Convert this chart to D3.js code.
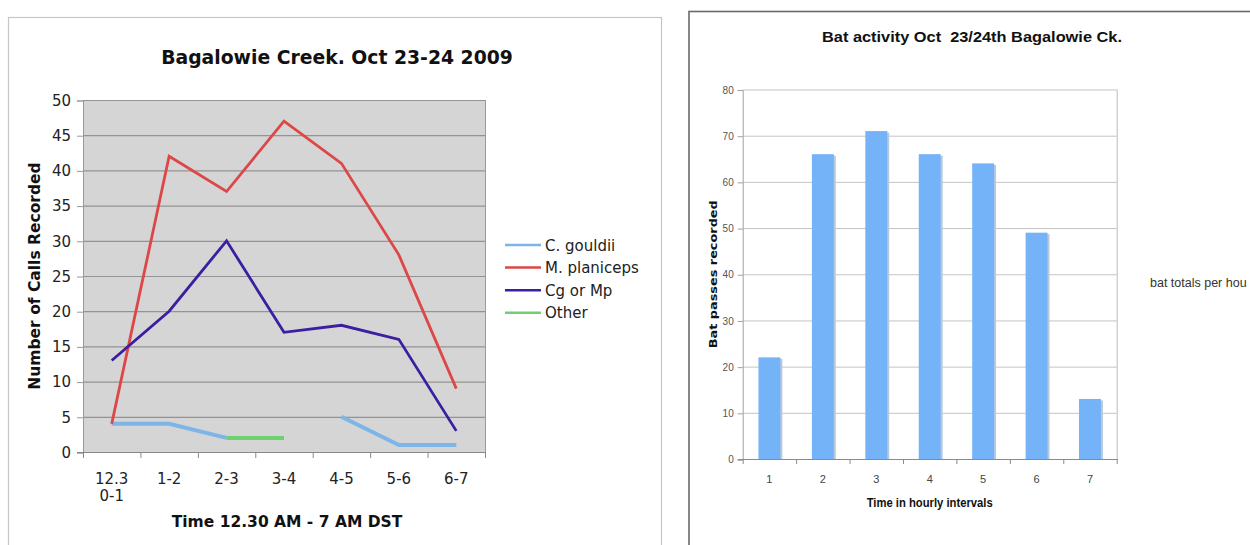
<!DOCTYPE html>
<html><head><meta charset="utf-8">
<script src="https://cdn.jsdelivr.net/npm/d3@7/dist/d3.min.js"></script>
<style>html,body{margin:0;padding:0;background:#fff;overflow:hidden} text{white-space:pre}</style>
</head><body>
<svg id="c" width="1250" height="545"></svg>
<script>
// ---------- data ----------
const leftCategories = ["12.3\n0-1","1-2","2-3","3-4","4-5","5-6","6-7"];
const cGouldii   = [4, 4, 2, null, 5, 1, 1];
const mPlaniceps = [4, 42, 37, 47, 41, 28, 9];
const cgOrMp     = [13, 20, 30, 17, 18, 16, 3];
const other      = [null, null, 2, 2, null, null, null];
const seriesNames = ["C. gouldii","M. planiceps","Cg or Mp","Other"];
const leftYTicks = [0,5,10,15,20,25,30,35,40,45,50];

const rightCategories = ["1","2","3","4","5","6","7"];
const batTotals = [22, 66, 71, 66, 64, 49, 13];
const rightYTicks = [0,10,20,30,40,50,60,70,80];
const rightLegendText = "bat totals per hou";

const svg = d3.select("#c");

// ================= LEFT CHART =================
const L = {x0:83, x1:485, yTop:100, yBot:452};
svg.append("rect").attr("x",8.5).attr("y",17.5).attr("width",653).attr("height",600)
  .attr("fill","#fff").attr("stroke","#c6c6c6").attr("stroke-width",1.2);

svg.append("text").attr("x",337).attr("y",64).attr("text-anchor","middle")
  .attr("font-family","DejaVu Sans").attr("font-weight","bold").attr("font-size",18.8)
  .attr("fill","#111").text("Bagalowie Creek. Oct 23-24 2009");

const lx = d3.scaleBand().domain(d3.range(leftCategories.length)).range([L.x0,L.x1]);
const ly = d3.scaleLinear().domain([0,50]).range([L.yBot,L.yTop]);

svg.append("rect").attr("x",L.x0).attr("y",L.yTop).attr("width",L.x1-L.x0).attr("height",L.yBot-L.yTop)
  .attr("fill","#d5d5d5");

const lg = svg.append("g");
lg.selectAll("line.grid").data(leftYTicks.filter(t=>t>0)).enter().append("line")
  .attr("x1",L.x0).attr("x2",L.x1).attr("y1",d=>ly(d)+0.5).attr("y2",d=>ly(d)+0.5)
  .attr("stroke","#939393").attr("stroke-width",1.2);
lg.append("line").attr("x1",L.x1+0.5).attr("x2",L.x1+0.5).attr("y1",L.yTop).attr("y2",L.yBot)
  .attr("stroke","#9a9a9a");

const lyAxis = d3.axisLeft(ly).tickValues(leftYTicks).tickSize(6).tickPadding(6);
const gly = svg.append("g").attr("transform",`translate(${L.x0},0.5)`).call(lyAxis);
gly.select(".domain").attr("stroke","#999");
gly.selectAll(".tick line").attr("stroke","#999");
gly.selectAll("text").attr("font-family","DejaVu Sans").attr("font-size",15).attr("fill","#222");

const edgeScale = d3.scaleLinear().domain([0,leftCategories.length]).range([L.x0,L.x1]);
const glx = svg.append("g");
glx.append("line").attr("x1",L.x0-6).attr("x2",L.x1).attr("y1",L.yBot+0.5).attr("y2",L.yBot+0.5)
  .attr("stroke","#888").attr("stroke-width",1.2);
glx.selectAll("line.tk").data(d3.range(leftCategories.length+1)).enter().append("line")
  .attr("x1",d=>edgeScale(d)+0.5).attr("x2",d=>edgeScale(d)+0.5)
  .attr("y1",L.yBot).attr("y2",L.yBot+6).attr("stroke","#888");
leftCategories.forEach((c,i)=>{
  const t = glx.append("text").attr("x",lx(i)+lx.bandwidth()/2).attr("y",484)
    .attr("text-anchor","middle").attr("font-family","DejaVu Sans").attr("font-size",15).attr("fill","#222");
  c.split("\n").forEach((s,j)=>t.append("tspan").attr("x",lx(i)+lx.bandwidth()/2).attr("dy",j?17:0).text(s));
});
svg.append("text").attr("x",(L.x0+L.x1)/2+3).attr("y",527).attr("text-anchor","middle")
  .attr("font-family","DejaVu Sans").attr("font-weight","bold").attr("font-size",15.5)
  .attr("fill","#111").text("Time 12.30 AM - 7 AM DST");
svg.append("text").attr("transform",`translate(40,${(L.yTop+L.yBot)/2}) rotate(-90)`)
  .attr("text-anchor","middle").attr("font-family","DejaVu Sans").attr("font-weight","bold")
  .attr("font-size",15.5).attr("fill","#111").text("Number of Calls Recorded");

const colors = ["#7db5e8","#dd4747","#3b1fa0","#6fd06f"];
const widths = [4,2.8,2.8,4];
const allSeries = [cGouldii, mPlaniceps, cgOrMp, other];
const line = d3.line().defined(d=>d!=null).x((d,i)=>lx(i)+lx.bandwidth()/2).y(d=>ly(d));
[0,3,1,2].forEach(k=>{
  svg.append("path").datum(allSeries[k]).attr("d",line).attr("fill","none")
    .attr("stroke",colors[k]).attr("stroke-width",widths[k]).attr("stroke-linejoin","miter");
});

const leg = svg.append("g");
seriesNames.forEach((n,i)=>{
  const y = 245 + i*22.6;
  leg.append("line").attr("x1",505).attr("x2",541).attr("y1",y).attr("y2",y)
    .attr("stroke",colors[i]).attr("stroke-width",2.5);
  leg.append("text").attr("x",545).attr("y",y+5.5).attr("font-family","DejaVu Sans")
    .attr("font-size",15).attr("fill","#222").text(n);
});

// ================= RIGHT CHART =================
const R = {x0:742.7, x1:1116.7, yTop:89.5, yBot:459};
svg.append("rect").attr("x",689).attr("y",11.5).attr("width",700).attr("height",600)
  .attr("fill","#fff").attr("stroke","#6a6a6a").attr("stroke-width",1.6);

svg.append("text").attr("x",972).attr("y",42).attr("text-anchor","middle")
  .attr("font-family","Liberation Sans").attr("font-weight","bold").attr("font-size",15.5)
  .attr("textLength",300).attr("lengthAdjust","spacingAndGlyphs")
  .attr("fill","#111").text("Bat activity Oct  23/24th Bagalowie Ck.");

const rx = d3.scaleBand().domain(rightCategories).range([R.x0,R.x1]).paddingInner(0.59).paddingOuter(0.295);
const ry = d3.scaleLinear().domain([0,80]).range([R.yBot,R.yTop]);

const rg = svg.append("g");
rg.selectAll("line.grid").data(rightYTicks.filter(t=>t>0)).enter().append("line")
  .attr("x1",R.x0).attr("x2",R.x1).attr("y1",d=>ry(d)+0.5).attr("y2",d=>ry(d)+0.5)
  .attr("stroke","#c4c4c4");
rg.append("line").attr("x1",R.x1+0.5).attr("x2",R.x1+0.5).attr("y1",R.yTop).attr("y2",R.yBot)
  .attr("stroke","#bcbcbc");

rg.selectAll("rect.sh").data(batTotals).enter().append("rect")
  .attr("x",(d,i)=>rx(rightCategories[i])+2).attr("y",d=>ry(d)+1.5)
  .attr("width",rx.bandwidth()).attr("height",d=>R.yBot-ry(d)-1.5)
  .attr("fill","#b9c9da");
rg.selectAll("rect.bar").data(batTotals).enter().append("rect")
  .attr("x",(d,i)=>rx(rightCategories[i])).attr("y",d=>ry(d))
  .attr("width",rx.bandwidth()).attr("height",d=>R.yBot-ry(d))
  .attr("fill","#74b3f8");

const ryAxis = d3.axisLeft(ry).tickValues(rightYTicks).tickSize(5).tickPadding(4);
const gry = svg.append("g").attr("transform",`translate(${R.x0},0.5)`).call(ryAxis);
gry.select(".domain").attr("stroke","#a0a0a0");
gry.selectAll(".tick line").attr("stroke","#a0a0a0");
gry.selectAll("text").attr("font-family","Liberation Sans").attr("font-size",10).attr("fill","#555");

const redge = d3.scaleLinear().domain([0,rightCategories.length]).range([R.x0,R.x1]);
const grx = svg.append("g");
grx.append("line").attr("x1",R.x0-5).attr("x2",R.x1+1).attr("y1",R.yBot+0.5).attr("y2",R.yBot+0.5)
  .attr("stroke","#8a8a8a").attr("stroke-width",1.2);
grx.selectAll("line.tk").data(d3.range(rightCategories.length+1)).enter().append("line")
  .attr("x1",d=>redge(d)+0.5).attr("x2",d=>redge(d)+0.5)
  .attr("y1",R.yBot).attr("y2",R.yBot+5).attr("stroke","#8a8a8a");
grx.selectAll("text").data(rightCategories).enter().append("text")
  .attr("x",d=>rx(d)+rx.bandwidth()/2).attr("y",483).attr("text-anchor","middle")
  .attr("font-family","Liberation Sans").attr("font-size",11).attr("fill","#444").text(d=>d);

svg.append("text").attr("x",(R.x0+R.x1)/2).attr("y",507).attr("text-anchor","middle")
  .attr("font-family","Liberation Sans").attr("font-weight","bold").attr("font-size",12)
  .attr("textLength",126).attr("lengthAdjust","spacingAndGlyphs")
  .attr("fill","#111").text("Time in hourly intervals");
svg.append("text").attr("transform",`translate(717,${(R.yTop+R.yBot)/2}) rotate(-90)`)
  .attr("text-anchor","middle").attr("font-family","DejaVu Sans").attr("font-weight","bold")
  .attr("font-size",11).attr("textLength",148).attr("lengthAdjust","spacingAndGlyphs")
  .attr("fill","#111").text("Bat passes recorded");

svg.append("text").attr("x",1150).attr("y",287).attr("font-family","Liberation Sans")
  .attr("font-size",12.5).attr("fill","#333").text(rightLegendText);
</script>
</body></html>
